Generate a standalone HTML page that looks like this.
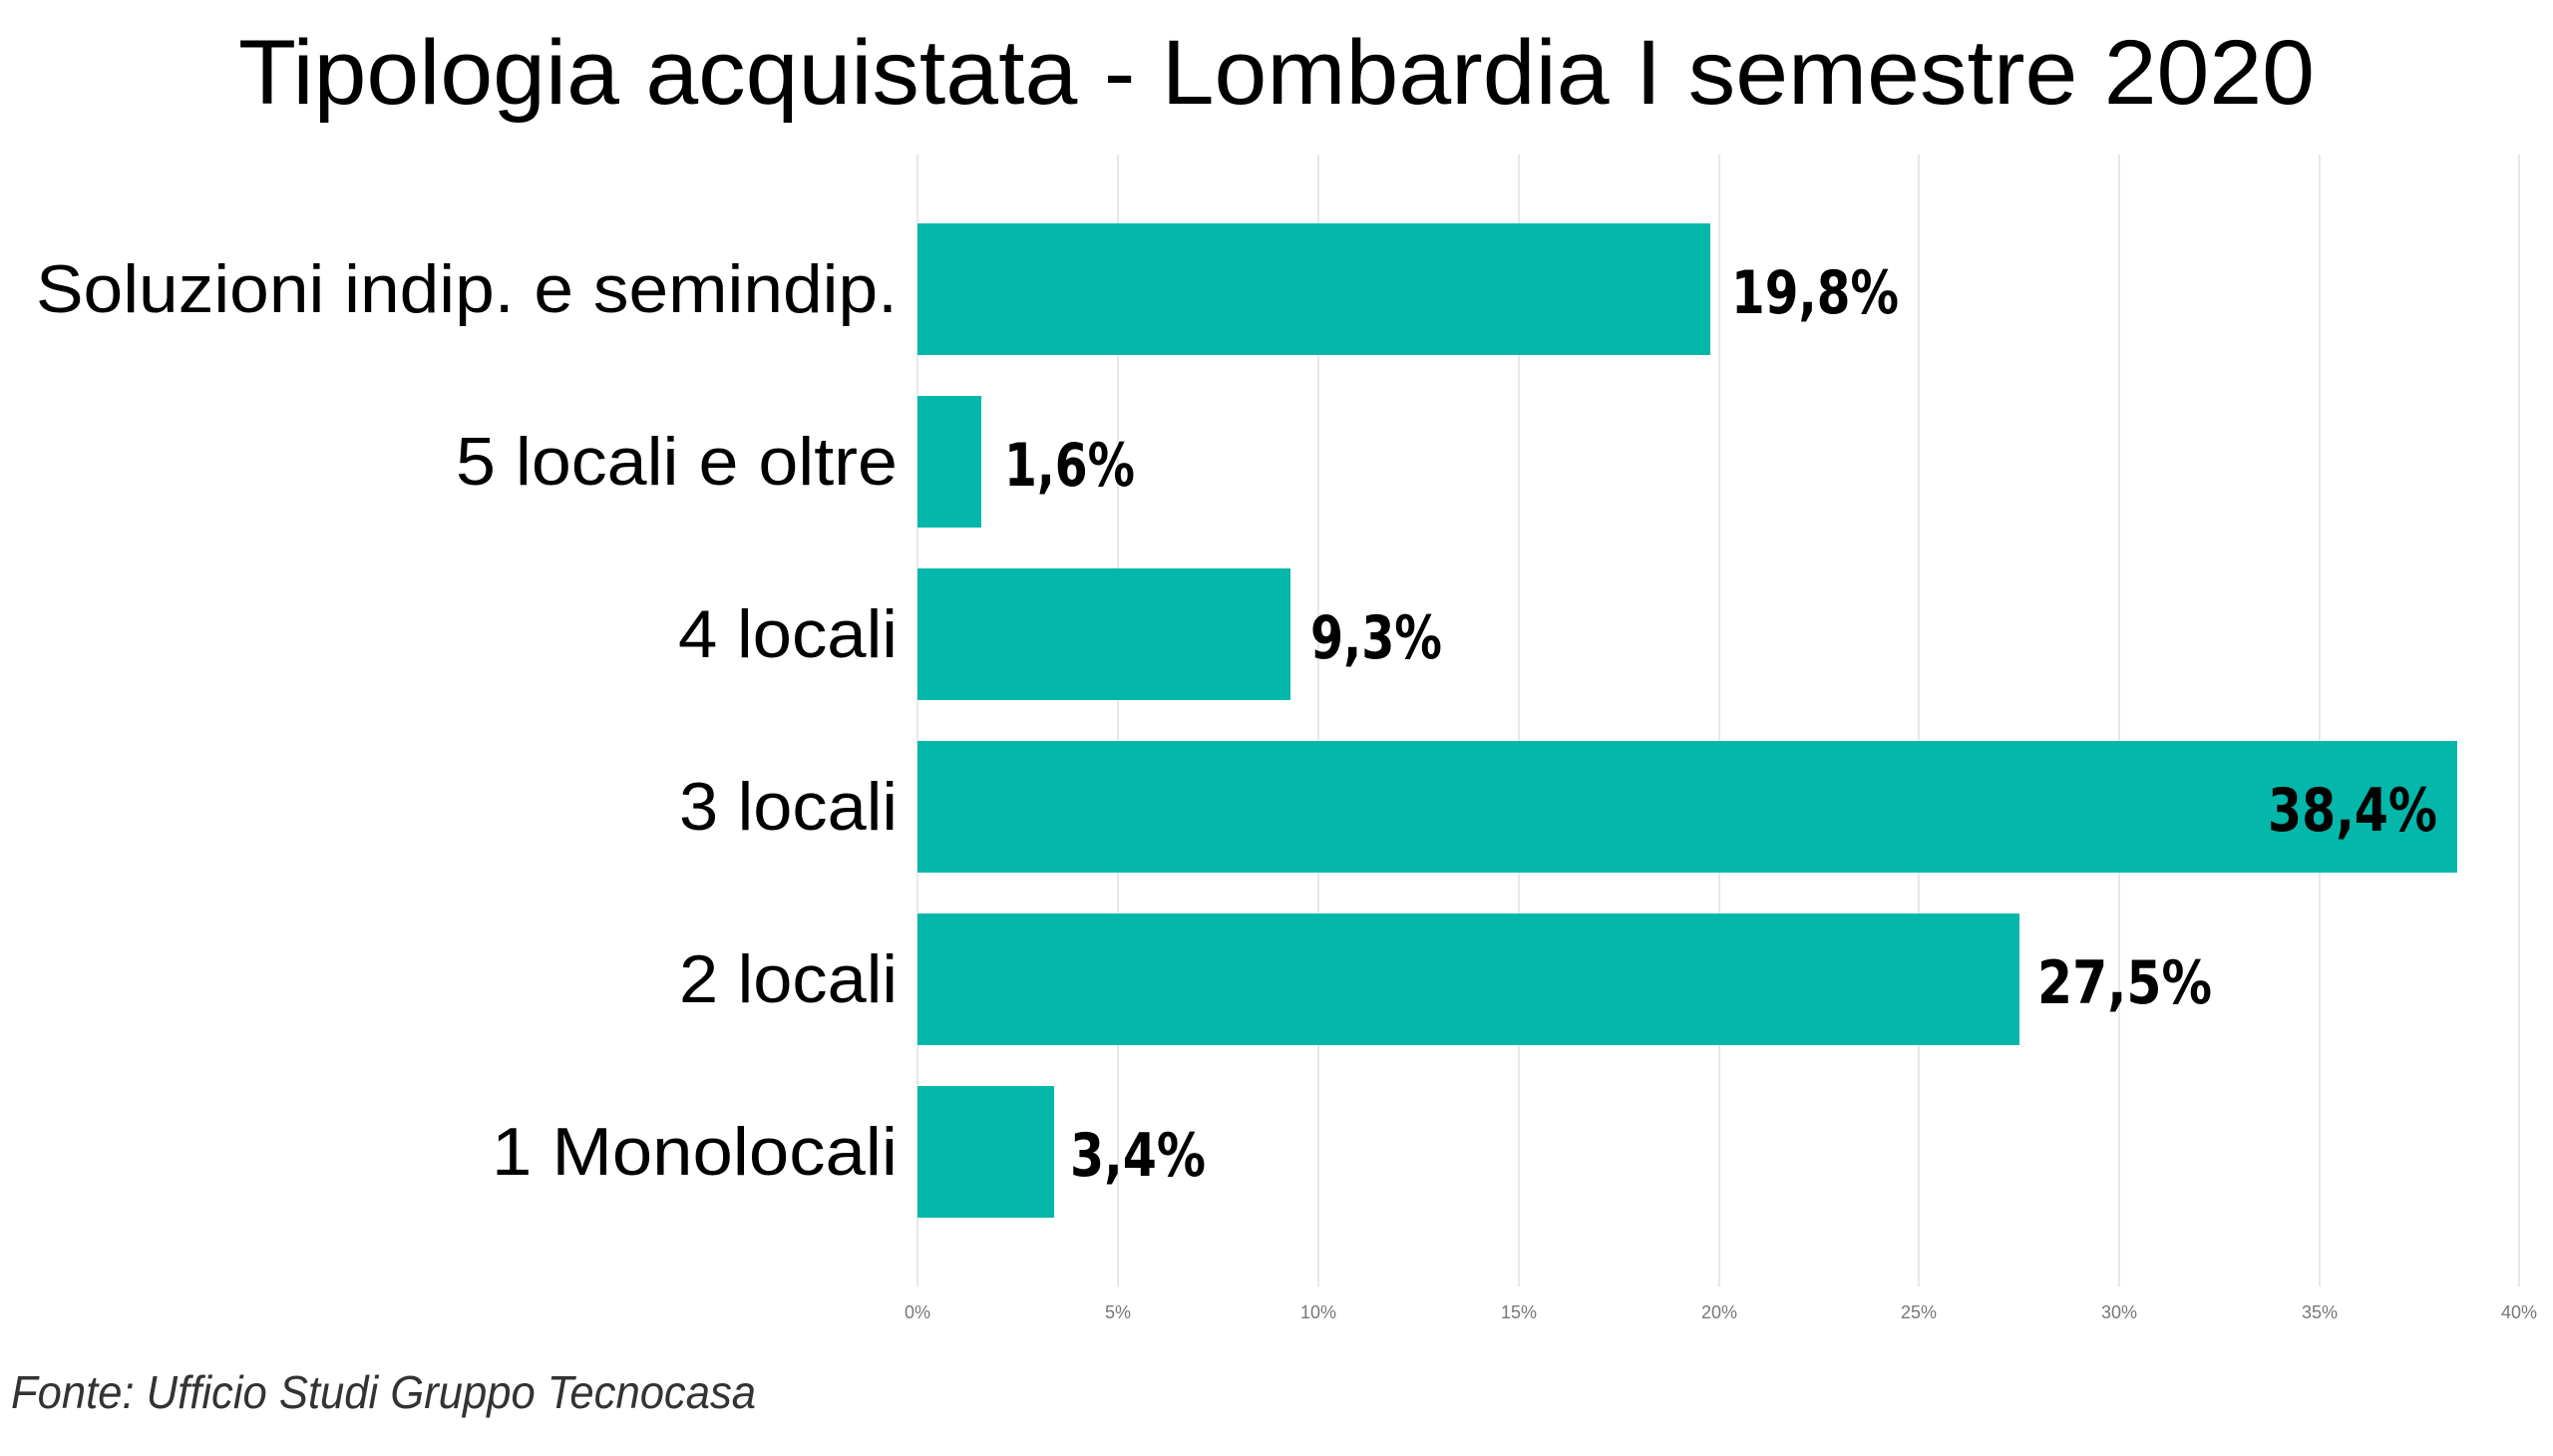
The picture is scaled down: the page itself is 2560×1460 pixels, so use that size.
<!DOCTYPE html>
<html><head><meta charset="utf-8"><style>html,body{margin:0;padding:0;background:#fff}svg{display:block}</style></head>
<body>
<svg width="2560" height="1460" viewBox="0 0 2560 1460" xmlns="http://www.w3.org/2000/svg" font-family="'Liberation Sans', 'DejaVu Sans', sans-serif">
<rect width="2560" height="1460" fill="#fff"/>
<text x="1280" y="104" font-size="92" text-anchor="middle" fill="#000" textLength="2082" lengthAdjust="spacingAndGlyphs">Tipologia acquistata - Lombardia I semestre 2020</text>
<g stroke="#e8e8e8" stroke-width="2">
<line x1="920" y1="155" x2="920" y2="1290"/>
<line x1="1121" y1="155" x2="1121" y2="1290"/>
<line x1="1322" y1="155" x2="1322" y2="1290"/>
<line x1="1523" y1="155" x2="1523" y2="1290"/>
<line x1="1724" y1="155" x2="1724" y2="1290"/>
<line x1="1924" y1="155" x2="1924" y2="1290"/>
<line x1="2125" y1="155" x2="2125" y2="1290"/>
<line x1="2326" y1="155" x2="2326" y2="1290"/>
<line x1="2526" y1="155" x2="2526" y2="1290"/>
</g>
<g font-size="18" fill="#777" text-anchor="middle">
<text x="920" y="1322">0%</text><text x="1121" y="1322">5%</text><text x="1322" y="1322">10%</text><text x="1523" y="1322">15%</text><text x="1724" y="1322">20%</text><text x="1924" y="1322">25%</text><text x="2125" y="1322">30%</text><text x="2326" y="1322">35%</text><text x="2526" y="1322">40%</text>
</g>
<g fill="#03B8AA">
<rect x="920" y="224" width="795" height="132"/>
<rect x="920" y="397" width="64" height="132"/>
<rect x="920" y="570" width="374" height="132"/>
<rect x="920" y="743" width="1544" height="132"/>
<rect x="920" y="916" width="1105" height="132"/>
<rect x="920" y="1089" width="137" height="132"/>
</g>
<g font-size="68" fill="#000" text-anchor="end" dominant-baseline="central" lengthAdjust="spacingAndGlyphs">
<text x="900" y="290" textLength="864" lengthAdjust="spacingAndGlyphs">Soluzioni indip. e semindip.</text>
<text x="900" y="463" textLength="443" lengthAdjust="spacingAndGlyphs">5 locali e oltre</text>
<text x="900" y="636" textLength="220" lengthAdjust="spacingAndGlyphs">4 locali</text>
<text x="900" y="809" textLength="219" lengthAdjust="spacingAndGlyphs">3 locali</text>
<text x="900" y="982" textLength="219" lengthAdjust="spacingAndGlyphs">2 locali</text>
<text x="900" y="1155" textLength="407" lengthAdjust="spacingAndGlyphs">1 Monolocali</text>
</g>
<g font-size="60" font-weight="bold" fill="#000" dominant-baseline="central" font-family="'DejaVu Sans Condensed','Liberation Sans Narrow','Liberation Sans',sans-serif">
<text x="1736" y="294" textLength="168" lengthAdjust="spacingAndGlyphs">19,8%</text>
<text x="1007" y="467" textLength="131" lengthAdjust="spacingAndGlyphs">1,6%</text>
<text x="1314" y="640" textLength="132" lengthAdjust="spacingAndGlyphs">9,3%</text>
<text x="2274" y="813" textLength="170" lengthAdjust="spacingAndGlyphs">38,4%</text>
<text x="2043" y="986" textLength="175" lengthAdjust="spacingAndGlyphs">27,5%</text>
<text x="1073" y="1159" textLength="136" lengthAdjust="spacingAndGlyphs">3,4%</text>
</g>
<text x="11" y="1412" font-size="46" font-style="italic" fill="#333" textLength="747" lengthAdjust="spacingAndGlyphs">Fonte: Ufficio Studi Gruppo Tecnocasa</text>
</svg>
</body></html>
